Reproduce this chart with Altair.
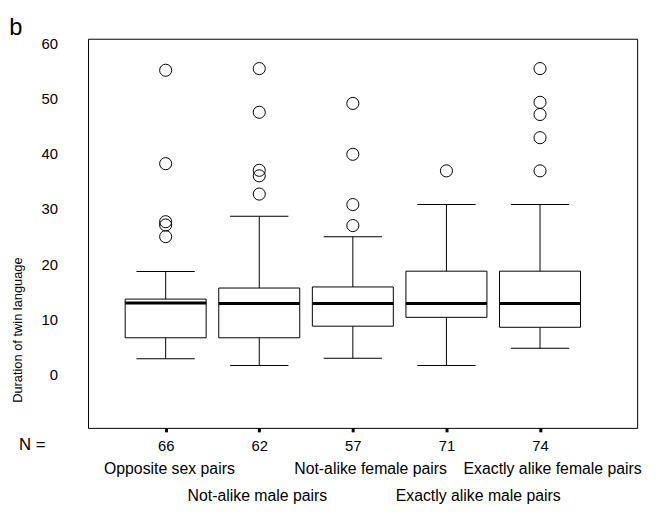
import altair as alt
import pandas as pd

# ---- data ----
categories = ["Opposite sex pairs", "Not-alike male pairs", "Not-alike female pairs",
              "Exactly alike male pairs", "Exactly alike female pairs"]
# where each category caption sits along the x axis
caption_pos = [1.04, 1.98, 3.19, 4.34, 5.135]
n_values = [66, 62, 57, 71, 74]
whisker_low = [2.9, 1.7, 3.0, 1.7, 4.8]
q1_values = [6.7, 6.7, 8.8, 10.4, 8.6]
median_values = [13.0, 12.9, 12.9, 12.9, 12.9]
q3_values = [13.7, 15.7, 15.9, 18.75, 18.75]
whisker_high = [18.7, 28.7, 25.0, 30.8, 30.8]
outliers = [
    [55.1, 38.2, 27.7, 27.1, 25.0],
    [55.4, 47.5, 37.0, 36.0, 32.7],
    [49.1, 39.9, 30.8, 27.0],
    [36.9],
    [55.4, 49.3, 47.1, 42.9, 36.9],
]
y_ticks = [0, 10, 20, 30, 40, 50, 60]
y_title = "Duration of twin language"
panel_label = "b"
n_label = "N ="

FONT = "Liberation Sans"

box_df = pd.DataFrame({
    "pos": list(range(1, len(categories) + 1)),
    "cap": caption_pos,
    "cat": categories,
    "lo": whisker_low, "q1": q1_values, "med": median_values,
    "q3": q3_values, "hi": whisker_high,
    "row": [1 if i % 2 == 0 else 2 for i in range(len(categories))],
})
out_df = pd.DataFrame(
    [{"pos": i + 1, "v": v} for i, vals in enumerate(outliers) for v in vals]
)

xs = alt.Scale(domain=[0.223, 5.985], nice=False, zero=False)
ys = alt.Scale(domain=[-9.6, 60.8], nice=False, zero=False)

label_expr = "[" + ",".join(f"'{n}'" for n in n_values) + "][datum.value - 1]"

x_enc = alt.X("pos:Q", scale=xs, title=None,
              axis=alt.Axis(values=list(range(1, len(categories) + 1)), labelExpr=label_expr,
                            domain=False, grid=False, tickSize=4, tickWidth=3, tickColor="black",
                            labelFont=FONT, labelFontSize=15, labelColor="black",
                            labelPadding=7))
y_axis = alt.Axis(values=y_ticks, domain=False, grid=False, ticks=False,
                  labelFont=FONT, labelFontSize=15, labelColor="black", labelPadding=31)

base = alt.Chart(box_df)

whisk = base.mark_rule(color="black", strokeWidth=1).encode(
    x=x_enc, y=alt.Y("lo:Q", scale=ys, axis=y_axis, title=None), y2="hi:Q")
caps_lo = base.mark_tick(orient="horizontal", size=59, thickness=1, color="black", opacity=1).encode(
    x="pos:Q", y="lo:Q")
caps_hi = base.mark_tick(orient="horizontal", size=59, thickness=1, color="black", opacity=1).encode(
    x="pos:Q", y="hi:Q")
boxes = base.mark_bar(size=82, fill="white", stroke="black", strokeWidth=1, opacity=1).encode(
    x="pos:Q", y="q1:Q", y2="q3:Q")
meds = base.mark_tick(orient="horizontal", size=82, thickness=3, color="black", opacity=1).encode(
    x="pos:Q", y="med:Q")
pts = alt.Chart(out_df).mark_point(shape="circle", filled=False, size=150, opacity=1,
                                   color="black", strokeWidth=1).encode(
    x="pos:Q", y="v:Q")

row1 = base.transform_filter("datum.row == 1").mark_text(
    font=FONT, fontSize=16, color="black", baseline="middle").encode(
    x="cap:Q", y=alt.value(436), text="cat:N")
row2 = base.transform_filter("datum.row == 2").mark_text(
    font=FONT, fontSize=16, color="black", baseline="middle").encode(
    x="cap:Q", y=alt.value(463), text="cat:N")

lbl_df = pd.DataFrame({"t": [n_label], "b": [panel_label], "yt": [y_title]})
nlab = alt.Chart(lbl_df).mark_text(font=FONT, fontSize=17, color="black",
                                   align="right", baseline="middle").encode(
    x=alt.value(-43), y=alt.value(411), text="t:N")
blab = alt.Chart(lbl_df).mark_text(font=FONT, fontSize=24, color="black",
                                   align="center", baseline="alphabetic").encode(
    x=alt.value(-73), y=alt.value(-4), text="b:N")
ytl = alt.Chart(lbl_df).mark_text(font=FONT, fontSize=13, color="black", angle=270,
                                  align="center", baseline="middle").encode(
    x=alt.value(-71), y=alt.value(295), text="yt:N")

chart = alt.layer(whisk, caps_lo, caps_hi, boxes, meds, pts, row1, row2, nlab, blab, ytl).properties(
    width=556, height=394,
    background="white",
    autosize=alt.AutoSizeParams(type="none"),
    padding={"left": 81, "top": 28, "right": 12, "bottom": 80},
).configure_view(stroke="black", strokeWidth=1)

chart.save("out.html", embed_options={"renderer": "svg", "actions": False})
